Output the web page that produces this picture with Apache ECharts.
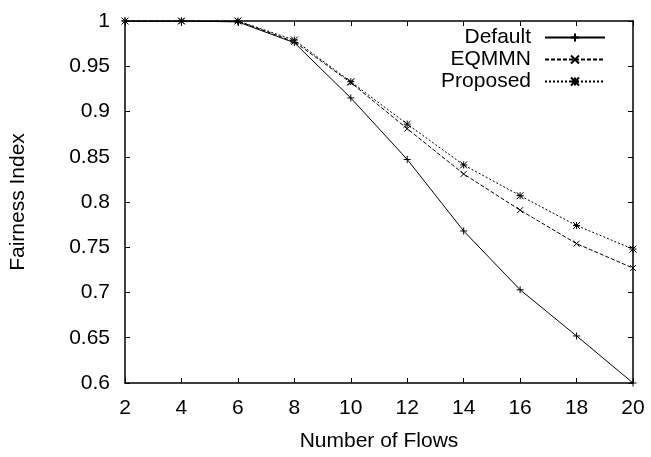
<!DOCTYPE html>
<html>
<head>
<meta charset="utf-8">
<script src="https://cdn.jsdelivr.net/npm/echarts@6/dist/echarts.min.js"></script>
<style>
  html, body { margin: 0; padding: 0; background: #fff; }
  #chart { width: 651px; height: 457px; }
</style>
</head>
<body>
<div id="chart"></div>
<script>
// Number of flows on the x axis
const flows = [2, 4, 6, 8, 10, 12, 14, 16, 18, 20];

// Fairness index per scheme
const defaultFairness  = [1.000, 1.000, 0.999, 0.976, 0.915, 0.847, 0.768, 0.703, 0.652, 0.600];
const eqmmnFairness    = [1.000, 1.000, 1.000, 0.977, 0.932, 0.881, 0.831, 0.791, 0.754, 0.727];
const proposedFairness = [1.000, 1.000, 1.000, 0.979, 0.933, 0.886, 0.841, 0.807, 0.774, 0.748];

const seriesNames = ['Default', 'EQMMN', 'Proposed'];

const FONT = 'Liberation Sans, Arial, Helvetica, sans-serif';
const FONT_SIZE = 21;

// Stroked point glyphs: plus, cross, and star (plus + cross)
const PLUS  = 'path://M0,-1L0,1M-1,0L1,0';
const CROSS = 'path://M-1,-1L1,1M-1,1L1,-1';
const STAR  = 'path://M0,-1L0,1M-1,0L1,0M-1,-1L1,1M-1,1L1,-1';

function pairs(ys) {
  return flows.map((x, i) => [x, ys[i]]);
}

function lineSeries(name, ys, symbol, type, size) {
  return {
    name: name,
    type: 'line',
    data: pairs(ys),
    symbol: symbol,
    symbolSize: size,
    showAllSymbol: true,
    animation: false,
    lineStyle: { color: '#000', width: 1, type: type },
    itemStyle: { color: 'none', borderColor: '#000', borderWidth: 1 },
    emphasis: { disabled: true }
  };
}

const chart = echarts.init(document.getElementById('chart'), null, { renderer: 'canvas' });

const axisLineStyle = { show: true, lineStyle: { color: '#000', width: 1.5 } };
const tickStyle = { show: true, inside: true, length: 5, lineStyle: { color: '#000', width: 1 } };

chart.setOption({
  backgroundColor: '#fff',
  animation: false,
  textStyle: { fontFamily: FONT, color: '#000' },
  grid: { left: 125, right: 18, top: 21, bottom: 66, containLabel: false },
  legend: {
    data: seriesNames,
    orient: 'vertical',
    right: 40,
    top: 22,
    align: 'right',
    itemWidth: 60,
    itemHeight: 10,
    itemGap: 1,
    selectedMode: false,
    textStyle: {
      fontFamily: FONT, fontSize: FONT_SIZE, color: '#000',
      lineHeight: 21, padding: [0, 9, 0, 0]
    }
  },
  xAxis: [
    {
      type: 'value',
      min: 2, max: 20, interval: 2,
      name: 'Number of Flows',
      nameLocation: 'middle',
      nameGap: 48,
      nameTextStyle: { fontFamily: FONT, fontSize: FONT_SIZE, color: '#000' },
      axisLine: axisLineStyle,
      axisTick: tickStyle,
      axisLabel: { fontFamily: FONT, fontSize: FONT_SIZE, color: '#000', margin: 15 },
      splitLine: { show: false }
    },
    {
      type: 'value',
      position: 'top',
      min: 2, max: 20, interval: 2,
      axisLine: axisLineStyle,
      axisTick: tickStyle,
      axisLabel: { show: false },
      splitLine: { show: false }
    }
  ],
  yAxis: [
    {
      type: 'value',
      min: 0.6, max: 1, interval: 0.05,
      name: 'Fairness Index',
      nameLocation: 'middle',
      nameGap: 96,
      nameTextStyle: { fontFamily: FONT, fontSize: FONT_SIZE, color: '#000' },
      axisLine: axisLineStyle,
      axisTick: tickStyle,
      axisLabel: {
        fontFamily: FONT, fontSize: FONT_SIZE, color: '#000', margin: 15,
        formatter: v => String(Math.round(v * 100) / 100)
      },
      splitLine: { show: false }
    },
    {
      type: 'value',
      position: 'right',
      min: 0.6, max: 1, interval: 0.05,
      axisLine: axisLineStyle,
      axisTick: tickStyle,
      axisLabel: { show: false },
      splitLine: { show: false }
    }
  ],
  series: [
    lineSeries('Default', defaultFairness, PLUS, 'solid', 7),
    lineSeries('EQMMN', eqmmnFairness, CROSS, [4, 2], 6),
    lineSeries('Proposed', proposedFairness, STAR, [2, 2], 7)
  ]
});
</script>
</body>
</html>
